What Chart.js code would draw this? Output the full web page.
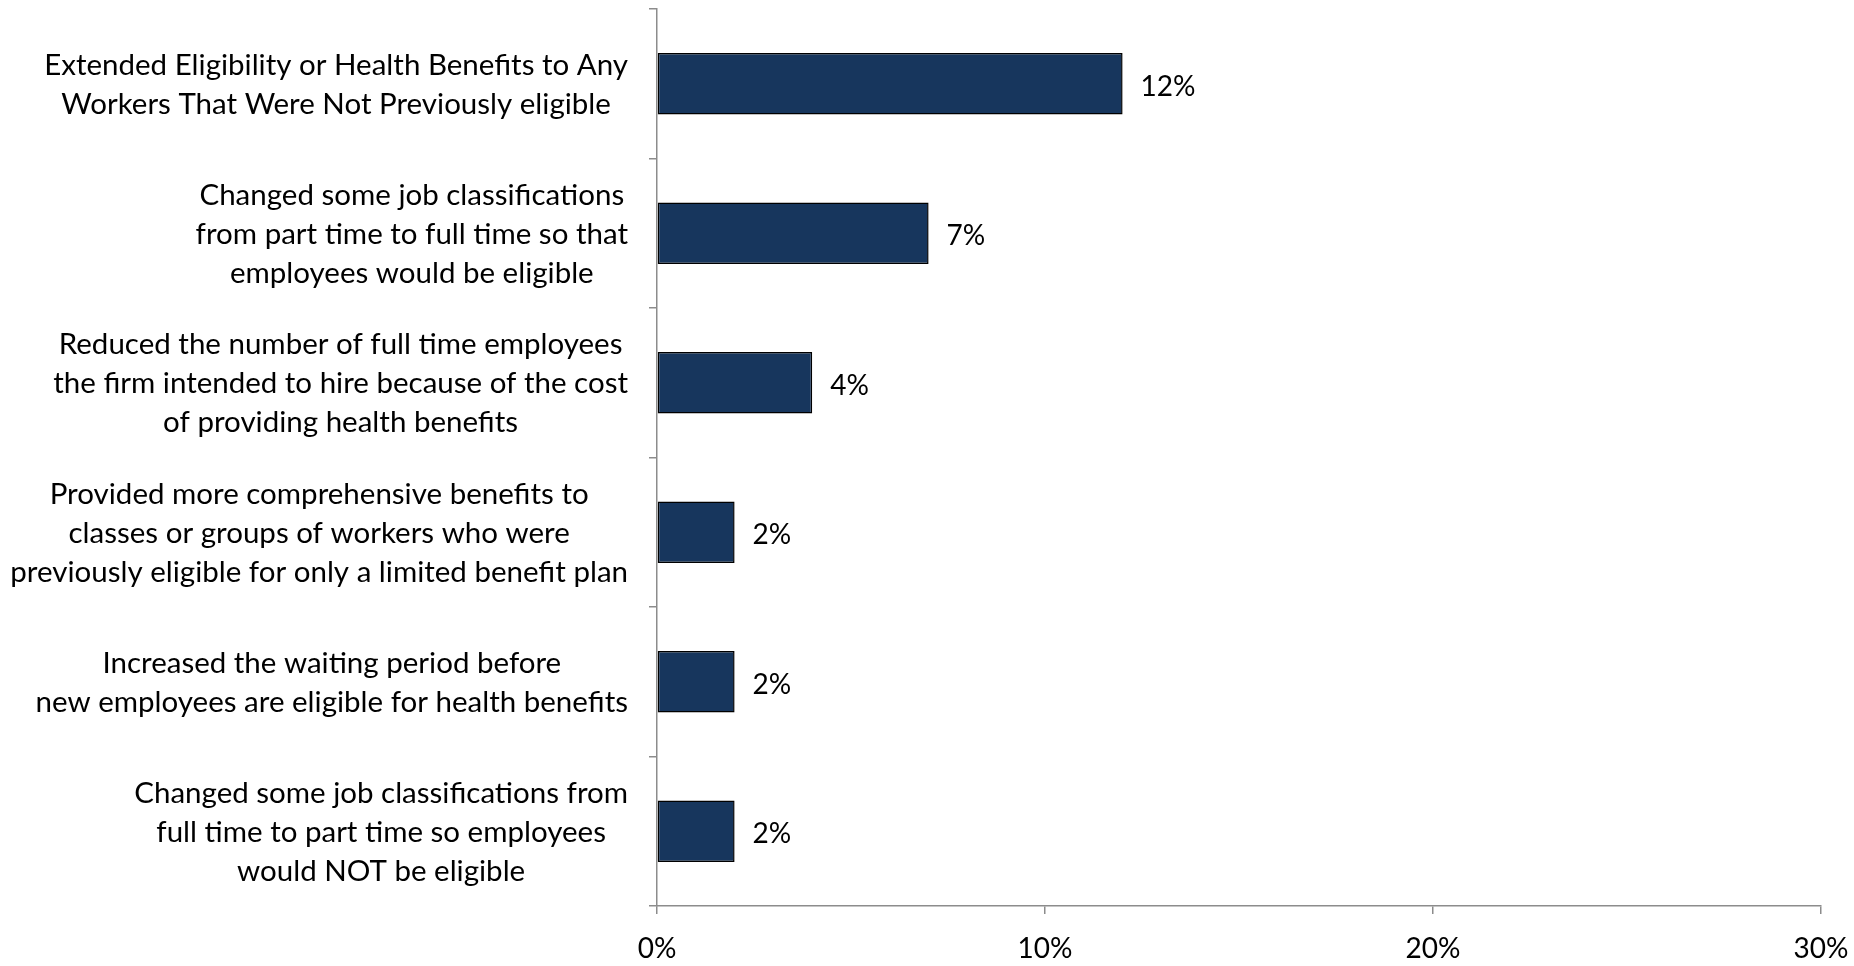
<!DOCTYPE html>
<html>
<head>
<meta charset="utf-8">
<style>
  html, body { margin: 0; padding: 0; background: #ffffff; }
  #wrap { width: 1854px; height: 966px; }
</style>
<script src="https://cdn.jsdelivr.net/npm/chart.js@4/dist/chart.umd.min.js"></script>
</head>
<body>
<div id="wrap"><canvas id="chart" width="1854" height="966"></canvas></div>
<script>
// Category labels, one array of lines per bar
const categories = [
  ["Extended Eligibility or Health Benefits to Any", "Workers That Were Not Previously eligible"],
  ["Changed some job classifications", "from part time to full time so that", "employees would be eligible"],
  ["Reduced the number of full time employees", "the firm intended to hire because of the cost", "of providing health benefits"],
  ["Provided more comprehensive benefits to", "classes or groups of workers who were", "previously eligible for only a limited benefit plan"],
  ["Increased the waiting period before", "new employees are eligible for health benefits"],
  ["Changed some job classifications from", "full time to part time so employees", "would NOT be eligible"]
];

// Share of firms (%)
const values = [12, 7, 4, 2, 2, 2];

// Value-axis tick marks (%)
const xTicks = [0, 10, 20, 30];

const FONT_FAMILY = "Lato, 'Open Sans', sans-serif";
const CAT_FONT_SIZE = 29.5;
const VAL_FONT_SIZE = 28;
const LINE_H = 39;
const AXIS_GRAY = "#8c8c8c";

// Draws the category text blocks (lines centred, blocks right-aligned)
// and the value labels at the end of each bar.
const labelPlugin = {
  id: "labelPlugin",
  afterDraw(chart) {
    const ctx = chart.ctx;
    const yScale = chart.scales.y;
    const xScale = chart.scales.x;
    ctx.save();
    ctx.fillStyle = "#000000";
    ctx.textBaseline = "middle";
    ctx.textAlign = "center";
    ctx.font = CAT_FONT_SIZE + "px " + FONT_FAMILY;
    const rightEdge = yScale.right - 29;
    categories.forEach((lines, i) => {
      const yc = yScale.getPixelForValue(i) + 1;
      const maxW = Math.max(...lines.map(l => ctx.measureText(l).width));
      const cx = rightEdge - maxW / 2;
      const y0 = yc - (lines.length - 1) * LINE_H / 2;
      lines.forEach((line, k) => ctx.fillText(line, cx, y0 + k * LINE_H));
    });
    ctx.textAlign = "left";
    ctx.font = VAL_FONT_SIZE + "px " + FONT_FAMILY;
    const meta = chart.getDatasetMeta(0);
    meta.data.forEach((bar, i) => {
      ctx.fillText(values[i] + "%", xScale.getPixelForValue(values[i]) + 18, bar.y + 3);
    });
    ctx.restore();
  }
};

new Chart(document.getElementById("chart"), {
  type: "bar",
  data: {
    labels: categories,
    datasets: [{
      data: values,
      backgroundColor: "#17365d",
      borderColor: "#000000",
      borderWidth: 1.5,
      borderSkipped: false,
      categoryPercentage: 1.0,
      barPercentage: 0.41
    }]
  },
  options: {
    indexAxis: "y",
    responsive: false,
    animation: false,
    events: [],
    layout: { padding: { top: 9, right: 33, left: 0, bottom: 0 } },
    plugins: {
      legend: { display: false },
      tooltip: { enabled: false }
    },
    scales: {
      x: {
        min: 0,
        max: 30,
        afterBuildTicks(scale) {
          scale.ticks = xTicks.map(v => ({ value: v }));
        },
        afterFit(scale) {
          scale.height = 60;
          scale.paddingLeft = 0;
          scale.paddingRight = 0;
        },
        ticks: {
          callback: v => v + "%",
          color: "#000000",
          padding: 18,
          maxRotation: 0,
          font: { family: FONT_FAMILY, size: VAL_FONT_SIZE }
        },
        grid: {
          drawOnChartArea: false,
          drawTicks: true,
          tickLength: 8,
          color: AXIS_GRAY,
          lineWidth: 1.5
        },
        border: { display: true, color: AXIS_GRAY, width: 1.5 }
      },
      y: {
        offset: true,
        afterFit(scale) {
          scale.width = 657;
          scale.paddingTop = 0;
          scale.paddingBottom = 0;
        },
        ticks: { display: false },
        grid: {
          offset: true,
          drawOnChartArea: false,
          drawTicks: true,
          tickLength: 8,
          color: AXIS_GRAY,
          lineWidth: 1.5
        },
        border: { display: true, color: AXIS_GRAY, width: 1.5 }
      }
    }
  },
  plugins: [labelPlugin]
});
</script>
</body>
</html>
